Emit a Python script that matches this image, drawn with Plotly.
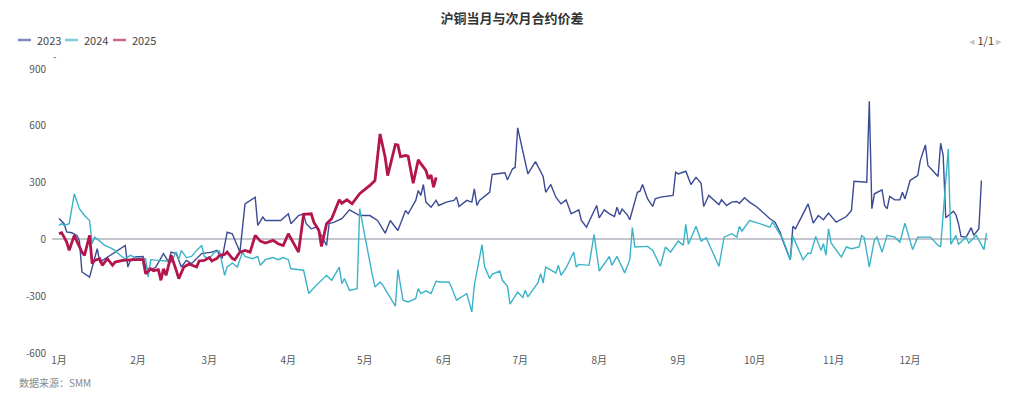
import plotly.graph_objects as go

# ---- data (MM-DD, value) ----
dates_2023 = ["01-01","01-03","01-04","01-06","01-08","01-09","01-10","01-13","01-16","01-17","01-21","01-24","01-27","01-28","01-29","01-31",
 "02-03","02-04","02-06","02-08","02-11","02-13","02-14","02-16","02-18","02-20","02-22","02-26","03-02","03-04","03-06","03-08","03-10","03-13",
 "03-15","03-19","03-20","03-22","03-23","03-27","03-29","04-01","04-02","04-05","04-07","04-08","04-10","04-12","04-13","04-16","04-17","04-19",
 "04-22","04-25","04-29","05-03","05-06","05-09","05-11","05-14","05-17","05-18","05-21","05-22","05-23","05-24","05-25","05-27","05-29","05-30",
 "06-02","06-05","06-06","06-07","06-10","06-12","06-13","06-14","06-15","06-19","06-20","06-25","06-26","06-28","06-29","06-30","07-04","07-07",
 "07-10","07-11","07-13","07-15","07-17","07-19","07-21","07-24","07-25","07-27","07-31","08-01","08-03","08-05","08-07","08-08","08-09","08-10",
 "08-12","08-13","08-16","08-17","08-18","08-20","08-22","08-23","08-25","08-30","08-31","09-01","09-04","09-06","09-08","09-10","09-11","09-13",
 "09-15","09-17","09-18","09-20","09-22","09-24","09-25","09-27","09-29","10-02","10-07","10-09","10-11","10-12","10-14","10-15","10-16","10-17",
 "10-22","10-24","10-26","10-28","10-30","11-02","11-06","11-08","11-09","11-14","11-15","11-16","11-17","11-20","11-21","11-22","11-23","11-25",
 "11-27","11-28","11-29","12-01","12-04","12-05","12-07","12-08","12-12","12-13","12-14","12-15","12-18","12-19","12-20","12-21","12-23","12-25",
 "12-26","12-28","12-29"]
values_2023 = [110,83,40,35,21,-5,-172,-199,-49,-120,-85,-60,-32,-146,-111,-93,
 -90,-146,-163,-146,-75,-120,-67,-75,-146,-111,-128,-75,-67,-58,-102,38,30,-67,
 188,223,74,118,100,100,100,135,83,126,135,83,56,65,47,-32,83,91,
 109,156,126,126,100,33,100,47,153,135,206,258,232,290,197,170,206,179,
 197,206,223,174,206,197,267,179,206,249,343,352,315,373,380,589,346,411,
 332,249,290,223,188,209,135,156,100,65,179,114,156,135,121,170,130,160,
 130,104,249,255,290,214,174,214,223,232,355,346,360,290,328,297,174,232,
 209,184,209,179,197,200,191,220,197,170,109,91,38,-5,-75,-107,69,56,
 188,86,126,104,139,91,121,153,307,302,729,162,241,262,179,162,227,209,
 209,249,214,311,337,416,499,390,332,508,443,114,149,130,83,16,12,62,
 21,56,311]

dates_2024 = ["01-01","01-02","01-03","01-05","01-07","01-09","01-11","01-13","01-14","01-15","01-17","01-19","01-21","01-23","01-25","01-27","01-29","01-31",
 "02-02","02-04","02-05","02-06","02-09","02-12","02-14","02-16","02-17","02-18","02-20","02-22","02-24","02-26","02-27","03-01","03-03","03-05",
 "03-07","03-08","03-10","03-12","03-14","03-15","03-18","03-20","03-21","03-23","03-26","03-28","03-30","04-01","04-02","04-07","04-09","04-12",
 "04-16","04-18","04-21","04-22","04-23","04-25","04-28","04-29","05-04","05-05","05-07","05-08","05-13","05-14","05-16","05-18","05-21","05-22",
 "05-23","05-25","05-27","05-29","05-30","06-03","06-04","06-06","06-08","06-10","06-12","06-13","06-16","06-17","06-19","06-20","06-23","06-24",
 "06-26","06-27","06-30","07-02","07-03","07-04","07-08","07-09","07-10","07-11","07-15","07-16","07-17","07-19","07-22","07-23","07-24","07-28",
 "07-30","08-01","08-05","08-06","08-08","08-11","08-13","08-14","08-15","08-20","08-22","08-25","08-27","08-29","09-01","09-03","09-04","09-05",
 "09-08","09-10","09-12","09-17","09-19","09-22","09-24","09-25","09-26","09-29","10-03","10-07","10-08","10-12","10-15","10-16","10-20","10-22",
 "10-23","10-25","10-27","10-28","10-29","10-30","10-31","11-04","11-06","11-08","11-11","11-12","11-13","11-15","11-17","11-18","11-20","11-22",
 "11-25","11-27","11-29","12-02","12-04","12-09","12-12","12-13","12-16","12-17","12-19","12-20","12-23","12-24","12-27","12-30","12-31"]
values_2024 = [74,83,74,83,241,162,126,100,-23,12,-9,-32,-44,-58,-84,-102,-84,-96,
 -102,-102,-199,-107,-111,-114,-120,-67,-107,-58,-96,-90,-58,-32,-90,-102,-67,-62,
 -190,-146,-125,-146,-67,-90,-102,-90,-137,-107,-96,-107,-96,-107,-155,-163,-286,-242,
 -190,-216,-146,-234,-207,-269,-260,162,-190,-251,-225,-240,-353,-160,-321,-330,-312,-260,
 -286,-272,-286,-220,-225,-225,-251,-321,-304,-286,-383,-242,-28,-142,-207,-184,-167,-216,
 -248,-342,-278,-307,-269,-304,-228,-181,-230,-146,-177,-137,-190,-151,-67,-146,-132,-137,
 26,-167,-90,-137,-90,-177,-107,62,-40,-37,-58,-142,-40,-67,-9,-30,79,-26,
 69,-9,9,-142,12,30,12,69,44,100,83,65,91,4,-107,16,-107,-72,
 -75,16,-58,-23,-84,56,-19,-93,-40,-49,-40,21,10,-146,-2,12,-67,21,
 12,-14,86,-54,12,12,-32,-37,478,-26,21,-26,12,-19,21,-54,33]

dates_2025 = ["01-01","01-02","01-03","01-04","01-05","01-07","01-08","01-10","01-11","01-13","01-14","01-15","01-17","01-18","01-20","01-22","01-23",
 "01-26","01-31","02-03","02-04","02-06","02-07","02-09","02-10","02-11","02-12","02-14","02-16","02-17","02-19","02-21","02-24","02-25","02-27",
 "03-01","03-02","03-04","03-05","03-07","03-08","03-10","03-11","03-13","03-15","03-17","03-19","03-21","03-23","03-26","03-28","03-30","04-01",
 "04-03","04-05","04-07","04-10","04-11","04-13","04-14","04-16","04-18","04-21","04-22","04-24","04-26","04-28","04-29","05-03","05-05","05-07",
 "05-09","05-10","05-13","05-14","05-15","05-17","05-18","05-20","05-22","05-23","05-25","05-26","05-27","05-28","05-29"]
values_2025 = [30,35,12,-14,-58,21,-9,-67,-84,21,-128,-111,-102,-137,-102,-137,-120,
 -111,-107,-107,-181,-155,-165,-160,-216,-155,-190,-84,-163,-207,-146,-130,-146,-114,-111,
 -96,-114,-100,-84,-79,-67,-100,-107,-67,-58,-67,21,-9,-19,-5,-23,-32,30,
 -19,-67,132,135,91,47,-37,83,109,209,191,209,188,227,241,285,311,557,
 434,337,501,499,437,443,440,297,420,400,364,320,340,276,328]

month_ticks = ["01-01","02-01","03-01","04-01","05-01","06-01","07-01","08-01","09-01","10-01","11-01","12-01"]
month_labels = ["1月","2月","3月","4月","5月","6月","7月","8月","9月","10月","11月","12月"]
y_ticks = [-600, -300, 0, 300, 600, 900]
y_labels = ["-600", "-300", "0", "300", "600", "900"]

BASE = "2023-"
FONT = "Noto Sans CJK SC, Microsoft YaHei, sans-serif"

W, H = 1024, 399
ML, MR, MT, MB = 52, 36, 69, 46
PW, PH = W - ML - MR, H - MT - MB


def px(x):  # container pixel x -> paper x
    return (x - ML) / PW


def py(y):  # container pixel y -> paper y
    return 1 - (y - MT) / PH


series = [
    ("2023", dates_2023, values_2023, "#3b4a94", 1.4),
    ("2024", dates_2024, values_2024, "#3ab3c8", 1.4),
    ("2025", dates_2025, values_2025, "#b3154c", 2.8),
]

fig = go.Figure()
for name, d, v, color, w in series:
    fig.add_trace(go.Scatter(
        x=[BASE + s for s in d], y=v, name=name, mode="lines",
        line=dict(color=color, width=w), showlegend=False))

fig.update_layout(
    width=W, height=H,
    margin=dict(l=ML, r=MR, t=MT, b=MB, autoexpand=False),
    paper_bgcolor="white", plot_bgcolor="white",
    font=dict(family=FONT, size=11, color="#333"),
    title=dict(text="<b>沪铜当月与次月合约价差</b>", x=0.5, xanchor="center",
               y=1 - 14 / H, yanchor="top", yref="container",
               font=dict(size=13, color="#333", family=FONT)),
    showlegend=False,
    xaxis=dict(type="date", range=["2022-12-29 06:00", "2023-12-31 14:00"],
               tickvals=[BASE + t for t in month_ticks], ticktext=month_labels,
               showgrid=False, zeroline=False, showline=False, ticks="",
               tickfont=dict(size=10, color="#555")),
    yaxis=dict(range=[-600, 900], tickvals=y_ticks, ticktext=y_labels,
               showgrid=False, zeroline=True, zerolinecolor="#c3c6cc", zerolinewidth=2,
               showline=False, ticks="", tickfont=dict(size=10, color="#555"),
               ticklabelstandoff=5),
    hovermode="x unified",
)

# custom legend (short swatches like the reference)
leg_x = [18, 65, 113]
for (name, _, _, color, _), lx in zip(series, leg_x):
    fig.add_shape(type="line", xref="paper", yref="paper",
                  x0=px(lx), x1=px(lx + 13), y0=py(40), y1=py(40),
                  line=dict(color=color, width=2.5), opacity=0.65)
    fig.add_annotation(text=name, xref="paper", yref="paper",
                       x=px(lx + 17), y=py(40), xanchor="left", yanchor="middle",
                       showarrow=False, font=dict(size=11, color="#444", family=FONT))

fig.add_annotation(text="数据来源：SMM", xref="paper", yref="paper",
                   x=px(17), y=py(382), xanchor="left", yanchor="middle",
                   showarrow=False, font=dict(size=10, color="#888", family=FONT))
fig.add_annotation(text="<span style='color:#c8c8c8'>◂</span> 1/1 <span style='color:#c8c8c8'>▸</span>",
                   xref="paper", yref="paper", x=px(985), y=py(40),
                   xanchor="center", yanchor="middle", showarrow=False,
                   font=dict(size=11, color="#444", family=FONT))
fig.add_annotation(text="-", xref="paper", yref="paper", x=px(55), y=py(55),
                   xanchor="center", yanchor="middle", showarrow=False,
                   font=dict(size=10, color="#555"))

fig.write_html("out.html", config={"displayModeBar": False},
               post_script="document.body.style.margin='0px';")
